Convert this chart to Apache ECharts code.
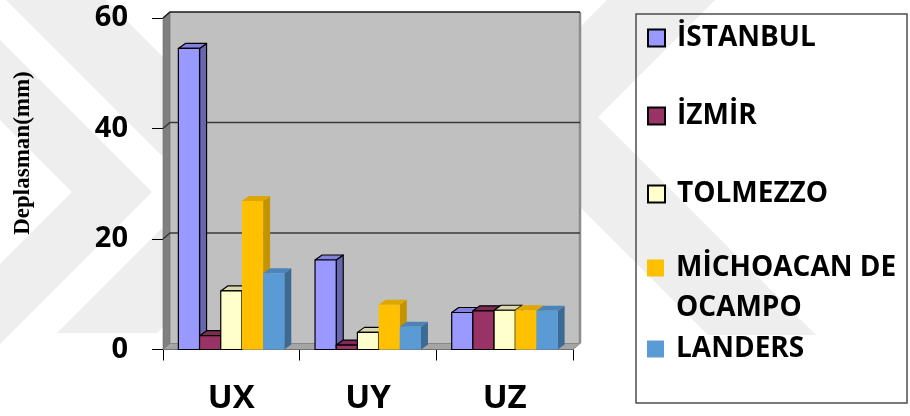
<!DOCTYPE html>
<html>
<head>
<meta charset="utf-8">
<script src="https://cdn.jsdelivr.net/npm/echarts@6/dist/echarts.min.js"></script>
<style>
  html, body { margin: 0; padding: 0; background: #ffffff; }
  #chart { width: 910px; height: 416px; }
</style>
</head>
<body>
<div id="chart"></div>
<script>
// Displacement components per earthquake record (mm)
const categories = ['UX', 'UY', 'UZ'];
const cityNames = ['İSTANBUL', 'İZMİR', 'TOLMEZZO', 'MİCHOACAN DE OCAMPO', 'LANDERS'];
const istanbul  = [54.5, 16.2, 6.7];
const izmir     = [2.5, 0.8, 7.0];
const tolmezzo  = [10.6, 3.1, 7.1];
const michoacan = [26.9, 8.1, 7.1];
const landers   = [13.8, 4.1, 7.0];
const yTickValues = [0, 20, 40, 60];

const seriesValues = [istanbul, izmir, tolmezzo, michoacan, landers];

// face colours: front, side, top, outlined
const palette = [
  { front: '#9999FF', side: '#6767B0', top: '#8282DC', outline: true },
  { front: '#993366', side: '#6A2347', top: '#7E2A55', outline: true },
  { front: '#FFFFCC', side: '#B5B591', top: '#D8D8AC', outline: true },
  { front: '#FFC000', side: '#C49300', top: '#DDA600', outline: false },
  { front: '#5B9BD5', side: '#3D6A94', top: '#4C84B8', outline: false }
];

const DX = 7, DY = 5;        // bar depth offset
const WDX = 7, WDY = 6;      // wall depth offset
const BAR_RATIO = 0.155;     // bar width as a share of the category band

function barRenderer(si) {
  const c = palette[si];
  return function (params, api) {
    const cat = api.value(0);
    const v = api.value(1);
    const p0 = api.coord([cat, 0]);
    const p1 = api.coord([cat, v]);
    const band = api.size([1, 0])[0];
    const bw = band * BAR_RATIO;
    const x = p0[0] - bw * 2.5 + si * bw;
    const yb = p0[1], yt = p1[1];
    const line = c.outline ? { stroke: '#000', lineWidth: 1.2, lineJoin: 'round' } : { stroke: null };
    return {
      type: 'group',
      children: [
        { type: 'polygon', shape: { points: [[x + bw, yt], [x + bw + DX, yt - DY], [x + bw + DX, yb - DY], [x + bw, yb]] },
          style: Object.assign({ fill: c.side }, line) },
        { type: 'polygon', shape: { points: [[x, yt], [x + DX, yt - DY], [x + bw + DX, yt - DY], [x + bw, yt]] },
          style: Object.assign({ fill: c.top }, line) },
        { type: 'rect', shape: { x: x, y: yt, width: bw, height: yb - yt },
          style: Object.assign({ fill: c.front }, line) }
      ]
    };
  };
}

// back wall, side wall, floor and grid lines on the back wall
function wallRenderer(params, api) {
  const cs = params.coordSys;
  const x0 = cs.x, x1 = cs.x + cs.width;
  const yTop = api.coord([0, yTickValues[yTickValues.length - 1]])[1];
  const yZero = api.coord([0, 0])[1];
  const children = [
    { type: 'polygon', shape: { points: [[x0 + WDX, yTop - WDY], [x1 + WDX, yTop - WDY], [x1 + WDX, yZero - WDY], [x0 + WDX, yZero - WDY]] },
      style: { fill: '#C0C0C0' } },
    { type: 'polygon', shape: { points: [[x0, yTop], [x0 + WDX, yTop - WDY], [x0 + WDX, yZero - WDY], [x0, yZero]] },
      style: { fill: '#808080', stroke: '#6a6a6a', lineWidth: 0.6 } },
    { type: 'polygon', shape: { points: [[x0, yZero], [x0 + WDX, yZero - WDY], [x1 + WDX, yZero - WDY], [x1, yZero]] },
      style: { fill: '#A5A5A5', stroke: '#777', lineWidth: 0.8 } },
    { type: 'line', shape: { x1: x1 + WDX, y1: yTop - WDY, x2: x1 + WDX, y2: yZero - WDY },
      style: { stroke: '#8c8c8c', lineWidth: 2.5 } }
  ];
  yTickValues.forEach(function (t) {
    if (t === 0) return;
    const y = api.coord([0, t])[1];
    children.push({ type: 'polyline', shape: { points: [[x0, y], [x0 + WDX, y - WDY], [x1 + WDX, y - WDY]] },
      style: { stroke: t === 60 ? '#1a1a1a' : '#3a3a3a', lineWidth: 1.5, fill: null } });
  });
  return { type: 'group', children: children };
}

const series = [{
  type: 'custom',
  name: 'walls',
  renderItem: wallRenderer,
  data: [[0, 0]],
  encode: { x: 0, y: 1 },
  z: 1,
  silent: true
}];
seriesValues.forEach(function (vals, si) {
  series.push({
    type: 'custom',
    name: cityNames[si],
    renderItem: barRenderer(si),
    data: vals.map(function (v, i) { return [i, v]; }),
    encode: { x: 0, y: 1 },
    itemStyle: { color: palette[si].front },
    z: 3
  });
});

const legendTextStyle = {
  fontFamily: 'Open Sans', fontWeight: 'bold', fontSize: 28, color: '#000',
  lineHeight: 18, padding: [0, 0, 0, 7]
};
const legendTops = [24, 102, 180, 208, 335];
const legends = cityNames.map(function (n, i) {
  const c = palette[i];
  const lg = {
    data: [{ name: n, icon: 'rect',
      itemStyle: c.outline ? { color: c.front, borderColor: '#000', borderWidth: 2 } : { color: c.front, borderWidth: 0 } }],
    left: 647, top: legendTops[i], orient: 'vertical',
    itemWidth: 17, itemHeight: 17, padding: 0, selectedMode: false,
    textStyle: Object.assign({}, legendTextStyle)
  };
  if (i === 3) {
    // long name wraps onto a second line below the marker row
    lg.formatter = function () { return '\nMİCHOACAN DE\nOCAMPO'; };
    lg.textStyle = Object.assign({}, legendTextStyle, { lineHeight: 40 });
  }
  return lg;
});

// faint background emblem
const emblemColor = '#EEEEEE';
const emblem = [
  { type: 'polygon', z: -10, silent: true,
    shape: { points: [[0, 40], [152, 192], [0, 344], [0, 264], [72, 192], [0, 120]] },
    style: { fill: emblemColor } },
  { type: 'polygon', z: -10, silent: true,
    shape: { points: [[6, 0], [106, 0], [298, 192], [157, 333], [57, 333], [198, 192]] },
    style: { fill: emblemColor } },
  { type: 'polygon', z: -10, silent: true,
    shape: { points: [[607, 0], [490, 117], [708, 335], [816, 335], [598, 117], [715, 0]] },
    style: { fill: emblemColor } }
];

const chart = echarts.init(document.getElementById('chart'), null, { renderer: 'canvas' });
chart.setOption({
  animation: false,
  backgroundColor: '#ffffff',
  grid: { left: 163, right: 337, top: 18, bottom: 66.5, containLabel: false },
  xAxis: {
    type: 'category',
    data: categories,
    axisLine: { lineStyle: { color: '#000', width: 1 } },
    axisTick: { show: true, length: 11, lineStyle: { color: '#000' } },
    axisLabel: { fontFamily: 'Open Sans', fontWeight: 'bold', fontSize: 33, color: '#000', margin: 33 },
    splitLine: { show: false }
  },
  yAxis: {
    type: 'value',
    min: 0, max: 60, interval: 20,
    axisLine: { show: true, lineStyle: { color: '#000', width: 1 } },
    axisTick: { show: true, length: 11, lineStyle: { color: '#000' } },
    axisLabel: { fontFamily: 'Open Sans', fontWeight: 'bold', fontSize: 29, color: '#000', margin: 35 },
    splitLine: { show: false }
  },
  legend: legends,
  graphic: emblem.concat([
    { type: 'text', x: 23, y: 153, rotation: Math.PI / 2, z: 10,
      style: { text: 'Deplasman(mm)', font: 'bold 23px "Liberation Serif"', fill: '#000',
               textAlign: 'center', textVerticalAlign: 'middle' } },
    { type: 'rect', shape: { x: 636, y: 14, width: 271, height: 389 }, z: 10,
      style: { fill: null, stroke: '#4d4d4d', lineWidth: 1.5 } }
  ]),
  series: series
});
</script>
</body>
</html>
